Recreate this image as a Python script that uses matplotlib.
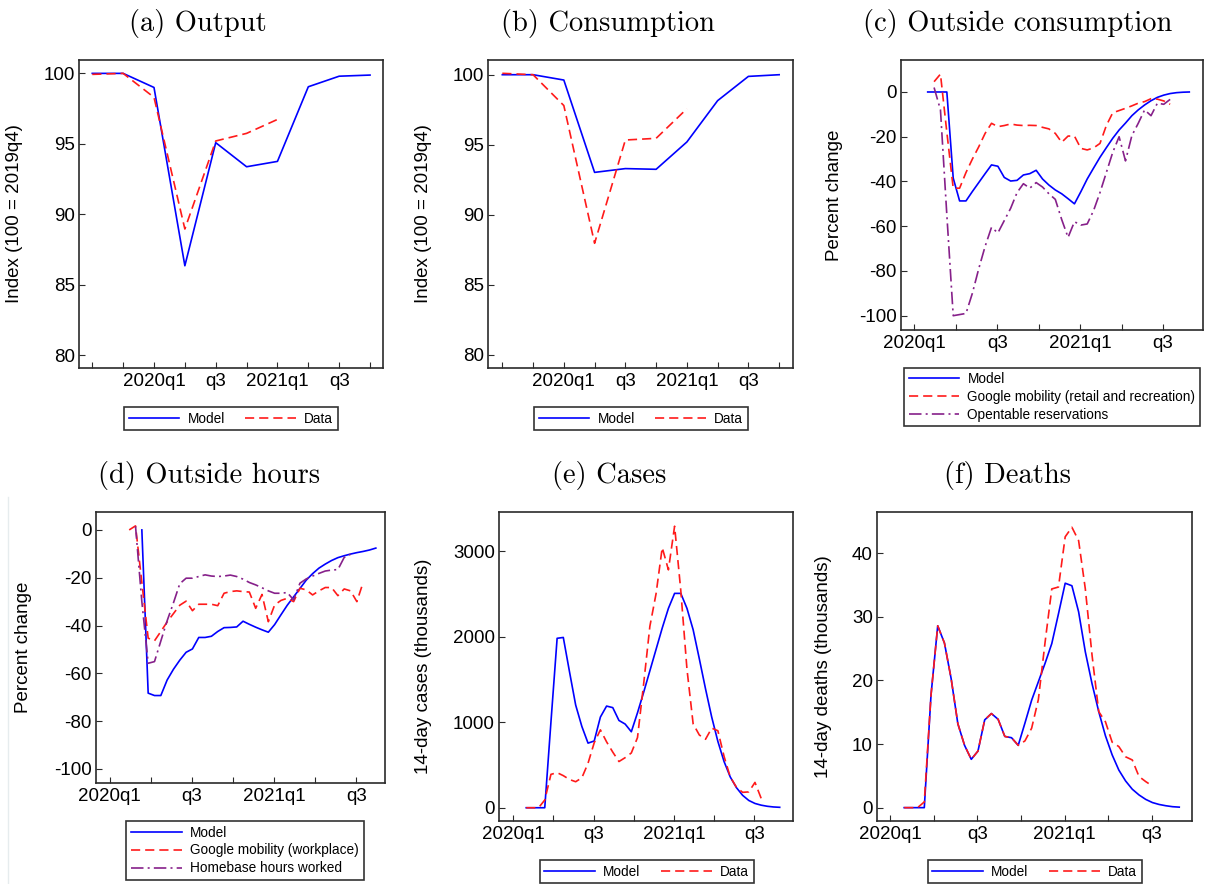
import numpy as np
import matplotlib
matplotlib.use("Agg")
import matplotlib.pyplot as plt
from matplotlib.lines import Line2D

plt.rcParams['font.family'] = ['Liberation Sans', 'DejaVu Sans']
plt.rcParams['axes.unicode_minus'] = False

# ---------------- quarterly panels (a), (b) ----------------
quarters = ['2019q3', '2019q4', '2020q1', '2020q2', '2020q3', '2020q4',
            '2021q1', '2021q2', '2021q3', '2021q4']
quarter_ticklabels = ['', '', '2020q1', '', 'q3', '', '2021q1', '', 'q3', '']
output_model = [100.0, 100.0, 99.0, 86.34, 95.08, 93.37, 93.75, 99.05, 99.8, 99.88]
output_data = [99.93, 100.0, 98.3, 88.95, 95.2, 95.74, 96.73]
cons_model = [100.0, 100.0, 99.62, 93.03, 93.3, 93.25, 95.2, 98.15, 99.88, 100.0]
cons_data = [100.1, 100.0, 97.8, 87.97, 95.34, 95.46, 97.57]

# ---------------- bi-weekly panels (c)-(f) ----------------
# time measured in weeks since start of 2020q1, observations every 2 weeks
weeks_per_quarter = 13
week_step = 2
weekly_ticklabels = ['2020q1', '', 'q3', '', '2021q1', '', 'q3']

# (c) Outside consumption
c_model_start = 4.2
c_model = [0, 0, 0, 0, -38.5, -48.7, -48.7, -44.5, -40.5, -36.5, -32.6, -33.2,
           -38.2, -39.8, -39.5, -37.1, -36.5, -35.0, -38.9, -41.6, -43.8, -45.5,
           -47.7, -50.0, -44.6, -38.9, -34.0, -29.2, -24.9, -20.7, -17.0, -13.9,
           -10.6, -8.0, -5.8, -3.9, -2.4, -1.4, -0.7, -0.3, -0.1, 0.0]
c_google_start = 6.2
c_google = [4.6, 8.0, -18, -43, -43, -36, -30, -24.5, -18.5, -14, -15.5, -15,
            -14.3, -14.8, -15, -14.9, -15, -15.8, -16.5, -18.5, -22.5, -19.7,
            -19.7, -25.2, -25.9, -25.0, -23.0, -15.0, -9.3, -8.3, -7.3, -6.2,
            -5.0, -4.3, -3.0, -3.2, -4.0, -5.5]
c_opentable_start = 6.2
c_opentable = [2, -8, -55, -100, -99.5, -99, -90, -79, -69, -60.5, -63, -57.5,
               -52, -45, -41, -43, -40.5, -42.5, -45.5, -48, -57, -65, -58,
               -59.5, -59, -53, -45, -36, -27, -20, -30.8, -19.5, -14, -8,
               -10.6, -5, -5.5, -3.3]

# (d) Outside hours
d_model_start = 10.2
d_model = [0, -68.3, -69.3, -69.3, -62.8, -58.3, -54.5, -51.2, -49.8, -45, -45,
           -44.5, -42.5, -40.9, -40.8, -40.6, -38.2, -39.5, -40.7, -41.8, -42.8,
           -39.6, -35.5, -31.5, -28, -24.5, -21, -18.3, -16, -14.3, -12.8, -11.6,
           -10.8, -10.1, -9.5, -9.0, -8.4, -7.6]
d_google_start = 6.2
d_google = [0, 1.7, -22, -45.3, -46.4, -42.5, -38.5, -35, -31.5, -29.8, -33.8,
            -31.1, -31.1, -31.1, -31.7, -26.5, -25.8, -25.5, -25.8, -26, -32.8,
            -27, -38.4, -31.4, -29.5, -28.6, -30, -24.4, -25.1, -27.2, -25.5,
            -24.1, -24.1, -27.5, -24.7, -25.5, -30, -21.9]
d_homebase_start = 8.2
d_homebase = [1.5, -30, -55.8, -55.1, -46.5, -38, -30.5, -22.5, -20.2, -20.2,
              -19.5, -18.8, -19.3, -19.5, -19.3, -18.9, -19.5, -20.6, -22, -23,
              -24.2, -25.5, -26.5, -26.5, -26.2, -29.3, -22.3, -20.5, -19.3,
              -18.2, -17.2, -16.8, -16.6, -11.5, -10.2]

# (e) Cases (thousands)
e_model_start = 4.2
e_model = [0, 0, 0, 0, 1000, 1980, 1990, 1590, 1200, 950, 755, 780, 1060, 1188,
           1170, 1020, 978, 888, 1110, 1350, 1600, 1850, 2100, 2330, 2505, 2505,
           2330, 2080, 1740, 1390, 1060, 775, 540, 360, 235, 145, 85, 50, 30,
           17, 9, 5]
e_data_start = 4.2
e_data = [0, 0, 0, 90, 390, 410, 375, 330, 304, 350, 520, 760, 910, 770, 650,
          540, 585, 640, 820, 1450, 2120, 2500, 3040, 2780, 3290, 2540, 1620,
          980, 850, 800, 930, 900, 600, 360, 240, 180, 185, 296, 110]

# (f) Deaths (thousands)
f_model_start = 4.2
f_model = [0, 0, 0, 0, 17.7, 28.6, 25.9, 20.3, 13.2, 9.8, 7.6, 8.9, 13.8, 14.8,
           13.9, 11.2, 11.0, 9.8, 13.3, 16.9, 19.8, 22.7, 25.8, 30.5, 35.3,
           34.9, 30.8, 24.5, 19.5, 15.1, 11.3, 8.3, 5.9, 4.2, 2.9, 2.0, 1.3,
           0.8, 0.5, 0.3, 0.15, 0.08]
f_data_start = 4.2
f_data = [0, 0, 0, 0.9, 17.7, 28.6, 25.9, 20.3, 13.2, 9.8, 7.6, 8.9, 13.8, 14.8,
          13.9, 11.2, 11.0, 9.8, 10.5, 12.5, 17.0, 26.0, 34.4, 34.7, 42.6, 44.1,
          42.0, 34.4, 24.0, 15.1, 13.5, 10.3, 9.6, 8.0, 7.5, 4.9, 4.1, 3.4]

# ---------------- styling ----------------
BLUE = '#0000ff'
RED = '#ff1a1a'
PURPLE = '#86208a'
DASH = (0, (5.5, 3.0))
DASHDOT = (0, (7.5, 2.5, 1.2, 2.5))
TICK_FS = 13.5
LEG_FS = 9.85
TITLE_FS = 20.5
LW = 1.2

W, H = 1205, 884
fig = plt.figure(figsize=(W / 100, H / 100), dpi=100)


def add_axes(l, t, r, b):
    return fig.add_axes([l / W, 1 - b / H, (r - l) / W, (b - t) / H])


def style(ax, ylabel, label_offset_px, width_px):
    for s in ax.spines.values():
        s.set_color('#2a2a2a')
        s.set_linewidth(1.2)
    ax.tick_params(axis='both', direction='in', length=4.5, width=0.8,
                   color='#2a2a2a', labelsize=TICK_FS)
    ax.tick_params(axis='x', pad=3.5)
    ax.tick_params(axis='y', pad=3)
    ax.set_ylabel(ylabel, fontsize=TICK_FS)
    ax.yaxis.set_label_coords(-label_offset_px / width_px, 0.5)


def legend(ax, handles, labels, cx, top, ncol=1, borderpad=0.35):
    lg = ax.legend(handles, labels, loc='upper center',
                   bbox_to_anchor=(cx / W, 1 - top / H),
                   bbox_transform=fig.transFigure, ncol=ncol,
                   fontsize=LEG_FS, frameon=True, fancybox=False,
                   edgecolor='black', handlelength=3.7, handletextpad=0.6,
                   columnspacing=1.5, borderpad=borderpad, labelspacing=0.28)
    lg.get_frame().set_linewidth(1.2)
    return lg


def title(text, cx, baseline):
    fig.text(cx / W, 1 - baseline / H, text, fontsize=TITLE_FS,
             family='cmr10', ha='center', va='baseline')


def weeks(start, values):
    return start + week_step * np.arange(len(values))


def weekly_axis(ax):
    ticks = weeks_per_quarter * np.arange(len(weekly_ticklabels))
    ax.set_xticks(ticks)
    ax.set_xticklabels(weekly_ticklabels)


model_h = Line2D([], [], color=BLUE, lw=LW)
data_h = Line2D([], [], color=RED, lw=LW, linestyle=DASH)
purple_h = Line2D([], [], color=PURPLE, lw=LW, linestyle=DASHDOT)

# (a) Output
ax = add_axes(79, 60, 383, 368)
qx = np.arange(len(quarters))
ax.plot(qx, output_model, color=BLUE, lw=LW)
ax.plot(qx[:len(output_data)], output_data, color=RED, lw=LW, linestyle=DASH)
ax.set_xlim(-0.43, 9.42)
ax.set_ylim(79.08, 100.95)
ax.set_xticks(qx)
ax.set_xticklabels(quarter_ticklabels)
ax.set_yticks([80, 85, 90, 95, 100])
style(ax, 'Index (100 = 2019q4)', 56, 304)
legend(ax, [model_h, data_h], ['Model', 'Data'], 231, 400, ncol=2)
title('(a) Output', 198, 31)

# (b) Consumption
ax = add_axes(488, 60, 793, 368)
ax.plot(qx, cons_model, color=BLUE, lw=LW)
ax.plot(qx[:len(cons_data)], cons_data, color=RED, lw=LW, linestyle=DASH)
ax.set_xlim(-0.465, 9.45)
ax.set_ylim(79.07, 101.05)
ax.set_xticks(qx)
ax.set_xticklabels(quarter_ticklabels)
ax.set_yticks([80, 85, 90, 95, 100])
style(ax, 'Index (100 = 2019q4)', 56, 305)
legend(ax, [model_h, data_h], ['Model', 'Data'], 641, 400, ncol=2)
title('(b) Consumption', 608, 31)

# (c) Outside consumption
ax = add_axes(901, 60, 1203, 330)
ax.plot(weeks(c_model_start, c_model), c_model, color=BLUE, lw=LW)
ax.plot(weeks(c_google_start, c_google), c_google, color=RED, lw=LW, linestyle=DASH)
ax.plot(weeks(c_opentable_start, c_opentable), c_opentable, color=PURPLE, lw=LW,
        linestyle=DASHDOT)
ax.set_xlim(-4.17, 90.5)
ax.set_ylim(-106.4, 14.3)
weekly_axis(ax)
ax.set_yticks([-100, -80, -60, -40, -20, 0])
style(ax, 'Percent change', 58, 302)
legend(ax, [model_h, data_h, purple_h],
       ['Model', 'Google mobility (retail and recreation)', 'Opentable reservations'],
       1052, 361, borderpad=0.3)
title('(c) Outside consumption', 1018, 31)

# (d) Outside hours
ax = add_axes(96, 512, 385, 783)
ax.plot(weeks(d_model_start, d_model), d_model, color=BLUE, lw=LW)
ax.plot(weeks(d_google_start, d_google), d_google, color=RED, lw=LW, linestyle=DASH)
ax.plot(weeks(d_homebase_start, d_homebase), d_homebase, color=PURPLE, lw=LW,
        linestyle=DASHDOT)
ax.set_xlim(-4.3, 87.1)
ax.set_ylim(-105.9, 7.5)
weekly_axis(ax)
ax.set_yticks([-100, -80, -60, -40, -20, 0])
style(ax, 'Percent change', 64, 289)
legend(ax, [model_h, data_h, purple_h],
       ['Model', 'Google mobility (workplace)', 'Homebase hours worked'],
       245, 814)
title('(d) Outside hours', 209, 483)

# (e) Cases
ax = add_axes(499, 512, 793, 821)
ax.plot(weeks(e_model_start, e_model), e_model, color=BLUE, lw=LW)
ax.plot(weeks(e_data_start, e_data), e_data, color=RED, lw=LW, linestyle=DASH)
ax.set_xlim(-4.6, 90.5)
ax.set_ylim(-155, 3456)
weekly_axis(ax)
ax.set_yticks([0, 1000, 2000, 3000])
style(ax, '14-day cases (thousands)', 67, 294)
legend(ax, [model_h, data_h], ['Model', 'Data'], 646.7, 853, ncol=2)
title('(e) Cases', 609, 483)

# (f) Deaths
ax = add_axes(877, 512, 1192, 821)
ax.plot(weeks(f_model_start, f_model), f_model, color=BLUE, lw=LW)
ax.plot(weeks(f_data_start, f_data), f_data, color=RED, lw=LW, linestyle=DASH)
ax.set_xlim(-3.9, 90.0)
ax.set_ylim(-2.1, 46.5)
weekly_axis(ax)
ax.set_yticks([0, 10, 20, 30, 40])
style(ax, '14-day deaths (thousands)', 45, 315)
legend(ax, [model_h, data_h], ['Model', 'Data'], 1034.7, 853, ncol=2)
title('(f) Deaths', 1008, 483)

# faint separator line at the left of the lower row
fig.add_artist(Line2D([8 / W, 8 / W], [0, 1 - 497 / H], transform=fig.transFigure,
                      color='#e6ecee', lw=1.0))

fig.savefig('out.png', dpi=100)
